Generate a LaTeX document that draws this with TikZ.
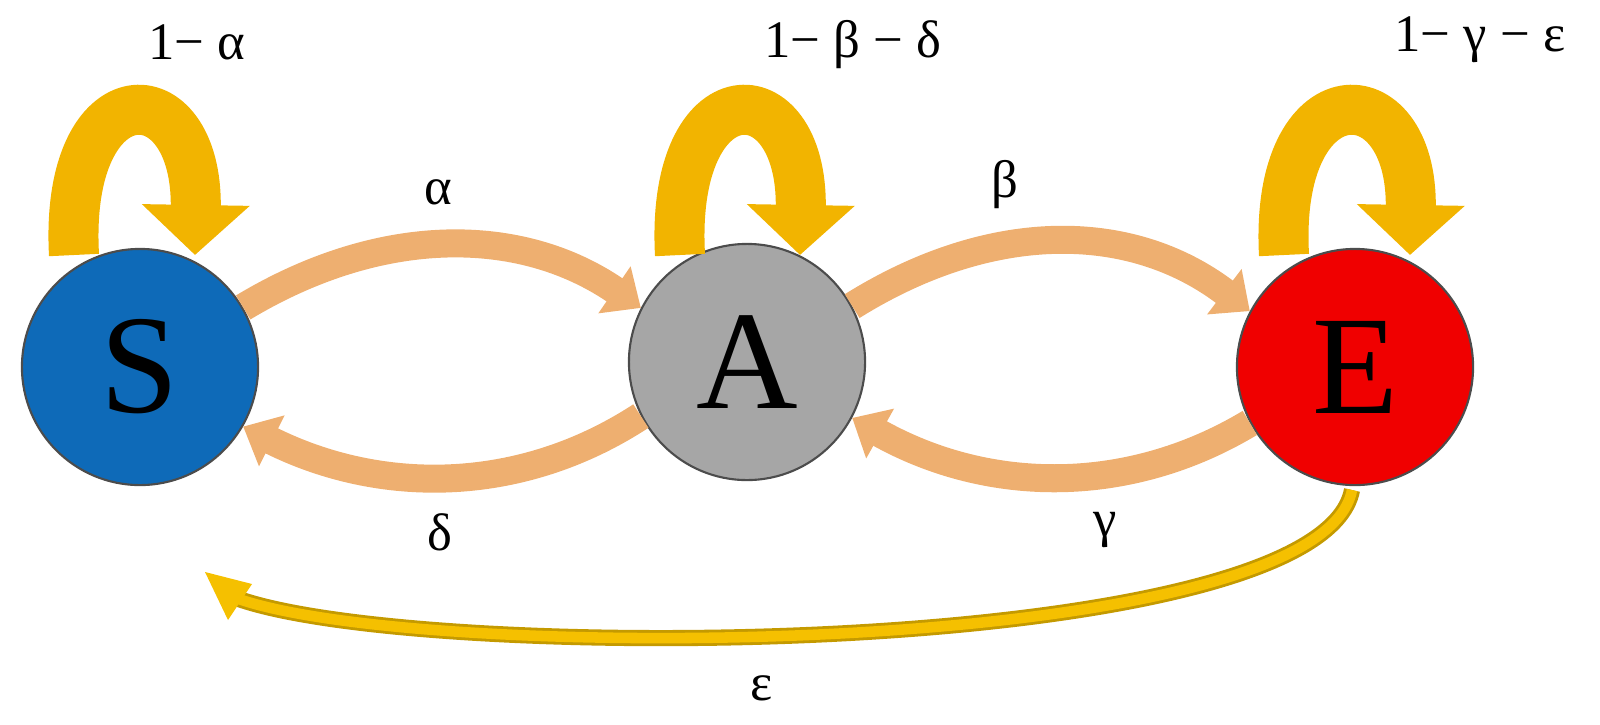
\documentclass[tikz,border=0pt]{standalone}
\usepackage{fontspec}
\setmainfont{Liberation Serif}
\usetikzlibrary{arrows.meta}
\definecolor{loopc}{HTML}{F2B400}
\definecolor{transc}{HTML}{EEAF70}
\definecolor{longc}{HTML}{F5C000}
\begin{document}
\begin{tikzpicture}[x=0.01cm,y=-0.01cm,
  st/.style={circle,draw=black!70,line width=0.6pt,minimum size=2.36cm,inner sep=0pt,font=\fontsize{40}{40}\selectfont},
  selfloop/.style={line width=0.5cm,draw=loopc,-{Triangle[width=1.05cm,length=0.5cm]}},
  trans/.style={line width=0.28cm,draw=transc,-{Triangle[width=0.55cm,length=0.32cm]}},
  lab/.style={font=\fontsize{15}{15}\selectfont}]
\useasboundingbox (0,0) rectangle (1600,724);
\node[st,fill={rgb,255:red,14;green,106;blue,184}] (S) at (140,367) {S};
\node[st,fill={rgb,255:red,166;green,166;blue,166}] (A) at (747,362) {A};
\node[st,fill={rgb,255:red,240;green,0;blue,0}] (E) at (1355,367) {E};
% self loops
\coordinate (s1) at (74,255);
\coordinate (s2) at (195,255);
\draw[selfloop] (s1) .. controls (64,70) and (198,70) .. (s2);
\coordinate (a1) at (680,255);
\coordinate (a2) at (800,255);
\draw[selfloop] (a1) .. controls (670,70) and (803,70) .. (a2);
\coordinate (e1) at (1284,255);
\coordinate (e2) at (1410,255);
\draw[selfloop] (e1) .. controls (1274,70) and (1413,70) .. (e2);
% transitions
\draw[trans] (S.30) .. controls (380,225) and (520,225) .. (A.153);
\draw[trans] (A.207) .. controls (520,495) and (380,495) .. (S.330);
\draw[trans] (A.28) .. controls (990,220) and (1130,220) .. (E.152);
\draw[trans] (E.208) .. controls (1130,495) and (990,495) .. (A.332);
% long
\coordinate (el) at (1352,490);
\draw[double=longc,draw=longc!80!black,double distance=3pt,line width=0.8pt] (el) .. controls (1320,660) and (420,665) .. (236,598);
\coordinate (stip) at (205,572);
\fill[longc] (stip) -- (252,584) -- (228,620) -- cycle;
% labels
\node[lab] at (197,42) {1− α};
\node[lab] at (853,45) {1− β − δ};
\node[lab] at (1480,40) {1− γ − ε};
\node[lab] at (438,192) {α};
\node[lab] at (1005,185) {β};
\node[lab] at (440,532) {δ};
\node[lab] at (1105,530) {γ};
\node[lab] at (762,688) {ε};
\end{tikzpicture}
\end{document}
